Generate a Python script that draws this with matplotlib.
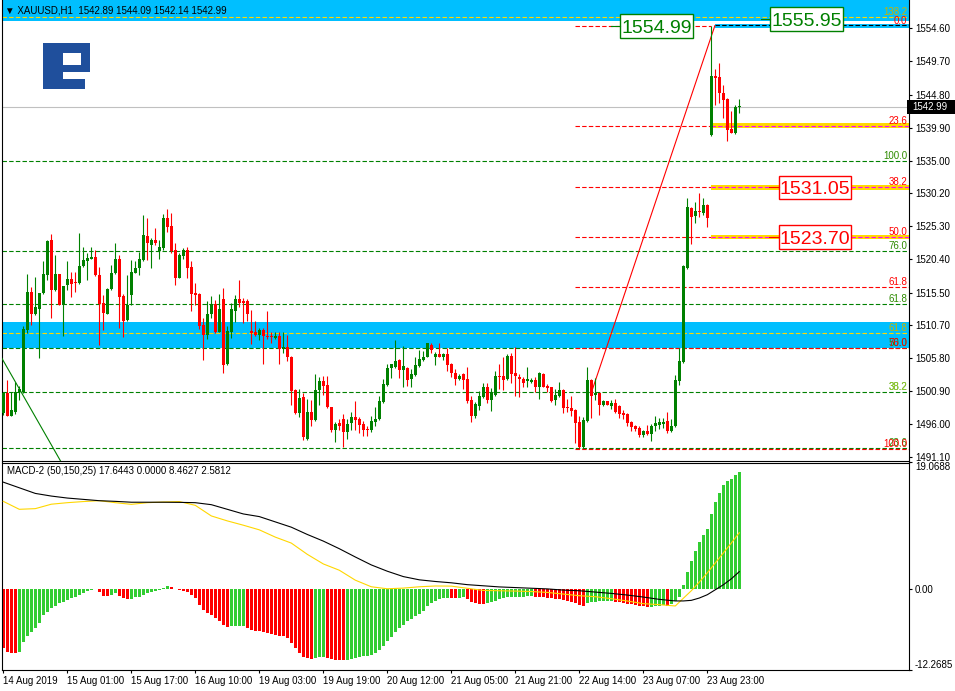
import numpy as np
import matplotlib
matplotlib.use("Agg")
import matplotlib.pyplot as plt
from matplotlib.patches import Rectangle

# ------------------------------------------------------------------------------
# data: XAUUSD H1 candles
# ------------------------------------------------------------------------------
opens = [
    1497.65, 1500.7, 1497.3, 1497.85, 1500.85, 1500.85, 1510.0, 1515.6, 1512.35, 1513.1,
    1515.4, 1518.1, 1523.3, 1515.9, 1518.25, 1513.7, 1516.6, 1517.5, 1517.0, 1516.9,
    1519.4, 1520.2, 1520.5, 1520.8, 1518.05, 1513.9, 1512.4, 1516.0, 1518.35, 1520.4,
    1515.0, 1511.45, 1515.15, 1518.45, 1519.1, 1520.3, 1523.9, 1522.55, 1523.3, 1521.65,
    1522.15, 1526.5, 1525.35, 1521.8, 1517.6, 1520.9, 1521.8, 1519.3, 1515.5, 1515.3,
    1510.7, 1509.2, 1512.4, 1513.8, 1509.7, 1514.5, 1504.95, 1509.7, 1512.8, 1514.55,
    1514.2, 1514.2, 1509.8, 1509.7, 1509.2, 1509.95, 1509.1, 1509.0, 1508.8, 1509.1,
    1507.1, 1507.4, 1506.0, 1501.1, 1497.7, 1500.1, 1493.9, 1497.9, 1496.65, 1501.1,
    1502.4, 1501.8, 1498.5, 1495.1, 1496.2, 1496.75, 1494.9, 1496.2, 1497.05, 1496.75,
    1496.0, 1495.2, 1495.1, 1496.4, 1496.75, 1499.36, 1501.8, 1504.3, 1504.5, 1505.5,
    1504.1, 1504.4, 1502.7, 1503.3, 1504.7, 1505.5, 1506.0, 1507.7, 1506.0, 1506.4,
    1506.0, 1506.4, 1504.93, 1503.65, 1502.7, 1503.4, 1502.7, 1499.6, 1497.24, 1498.77,
    1500.1, 1501.58, 1499.6, 1500.35, 1503.15, 1503.15, 1502.7, 1506.1, 1503.55, 1502.96,
    1502.7, 1502.4, 1502.3, 1502.56, 1501.48, 1503.45, 1501.68, 1501.48, 1499.6, 1500.2,
    1501.08, 1498.47, 1498.47, 1498.13, 1496.4, 1492.6, 1496.55, 1502.6, 1500.4, 1500.6,
    1498.9, 1499.4, 1498.75, 1499.15, 1498.65, 1497.67, 1497.5, 1496.4, 1495.7, 1495.45,
    1494.46, 1494.96, 1494.6, 1495.8, 1495.94, 1496.1, 1496.5, 1494.96, 1495.8, 1502.35,
    1505.16, 1519.1, 1528.08, 1526.85, 1527.5, 1527.25, 1528.5, 1538.83, 1547.56, 1547.46,
    1545.1, 1544.1, 1539.67, 1539.07, 1542.89]
highs = [
    1500.85, 1502.6, 1500.85, 1502.2, 1501.6, 1510.55, 1518.25, 1516.3, 1517.85, 1515.5,
    1520.2, 1523.3, 1524.1, 1521.1, 1518.3, 1516.5, 1520.2, 1518.6, 1518.6, 1524.3,
    1522.3, 1521.3, 1522.3, 1521.8, 1519.3, 1515.15, 1516.2, 1519.6, 1522.9, 1521.1,
    1515.25, 1518.1, 1520.3, 1520.1, 1521.55, 1527.0, 1526.5, 1523.5, 1525.0, 1523.3,
    1527.1, 1527.9, 1527.3, 1522.9, 1521.3, 1522.05, 1522.2, 1520.2, 1516.9, 1515.5,
    1511.7, 1514.2, 1515.0, 1514.4, 1515.3, 1516.2, 1510.5, 1514.0, 1515.15, 1517.4,
    1514.65, 1514.5, 1512.9, 1511.35, 1510.3, 1510.3, 1512.8, 1509.6, 1509.7, 1509.7,
    1509.6, 1509.2, 1506.1, 1501.2, 1501.2, 1500.6, 1499.7, 1499.6, 1503.45, 1503.06,
    1503.16, 1503.16, 1498.6, 1496.3, 1496.75, 1497.5, 1496.75, 1497.9, 1499.5, 1497.05,
    1496.5, 1495.7, 1497.2, 1498.6, 1500.2, 1502.66, 1505.0, 1505.0, 1508.5, 1505.6,
    1507.6, 1504.5, 1504.15, 1506.0, 1507.0, 1506.9, 1508.0, 1508.0, 1506.75, 1508.0,
    1506.6, 1507.25, 1505.03, 1504.14, 1503.45, 1503.55, 1504.5, 1500.2, 1499.36, 1500.94,
    1502.17, 1502.17, 1501.43, 1503.9, 1504.93, 1505.9, 1506.4, 1506.5, 1507.4, 1503.45,
    1502.96, 1504.44, 1502.8, 1502.96, 1503.7, 1503.55, 1501.97, 1501.58, 1501.18, 1502.2,
    1501.18, 1499.7, 1500.2, 1498.23, 1497.24, 1497.14, 1504.44, 1502.7, 1502.8, 1500.7,
    1499.6, 1499.5, 1499.6, 1499.7, 1498.9, 1498.16, 1497.67, 1496.5, 1495.94, 1495.7,
    1495.2, 1495.94, 1496.04, 1497.2, 1496.93, 1496.93, 1497.77, 1496.8, 1503.3, 1507.3,
    1519.6, 1529.47, 1528.23, 1528.97, 1530.3, 1529.47, 1528.6, 1554.99, 1548.54, 1549.43,
    1546.2, 1544.25, 1542.3, 1543.27, 1544.09]
lows = [
    1497.4, 1497.2, 1497.2, 1497.6, 1499.6, 1500.6, 1509.5, 1510.7, 1512.2, 1505.8,
    1515.3, 1517.4, 1511.7, 1515.8, 1513.6, 1509.0, 1515.9, 1514.9, 1515.6, 1516.8,
    1519.3, 1517.4, 1520.4, 1517.95, 1507.75, 1510.0, 1512.3, 1515.9, 1518.25, 1510.2,
    1508.9, 1511.35, 1513.7, 1518.35, 1518.1, 1520.2, 1520.3, 1519.1, 1522.55, 1520.4,
    1521.8, 1524.5, 1521.4, 1516.6, 1517.6, 1520.4, 1517.6, 1512.8, 1513.7, 1510.1,
    1505.5, 1508.6, 1511.7, 1509.5, 1509.6, 1503.65, 1504.8, 1508.8, 1511.2, 1513.3,
    1510.96, 1511.35, 1507.9, 1509.1, 1508.5, 1504.95, 1508.6, 1508.1, 1508.7, 1504.95,
    1506.5, 1505.3, 1498.8, 1497.55, 1497.15, 1493.7, 1493.7, 1495.7, 1496.55, 1498.9,
    1500.35, 1498.4, 1494.8, 1493.45, 1495.2, 1492.7, 1493.9, 1495.2, 1495.1, 1494.7,
    1494.3, 1494.3, 1494.9, 1495.7, 1496.65, 1499.2, 1501.7, 1502.8, 1504.4, 1502.8,
    1501.5, 1501.6, 1501.5, 1503.16, 1504.5, 1505.4, 1505.9, 1506.6, 1504.8, 1505.9,
    1505.5, 1503.95, 1503.06, 1501.8, 1502.56, 1501.18, 1499.2, 1496.4, 1497.0, 1498.13,
    1499.85, 1499.2, 1498.03, 1500.2, 1501.23, 1501.08, 1502.56, 1502.07, 1500.2, 1500.0,
    1501.58, 1501.58, 1502.07, 1500.84, 1499.75, 1501.48, 1500.84, 1499.36, 1498.87, 1500.1,
    1497.73, 1497.88, 1497.24, 1493.2, 1492.46, 1492.46, 1496.4, 1496.9, 1499.6, 1497.4,
    1498.65, 1498.8, 1498.2, 1497.67, 1496.93, 1496.8, 1495.7, 1494.96, 1494.96, 1494.2,
    1494.1, 1494.46, 1493.5, 1494.96, 1495.3, 1495.45, 1494.7, 1494.8, 1495.6, 1501.86,
    1505.06, 1518.96, 1522.7, 1525.86, 1526.75, 1527.0, 1525.2, 1538.7, 1543.27, 1543.6,
    1541.3, 1538.0, 1539.1, 1538.98, 1542.14]
closes = [
    1500.7, 1497.3, 1498.1, 1500.75, 1501.2, 1510.05, 1515.65, 1512.35, 1513.3, 1515.4,
    1518.25, 1523.15, 1515.9, 1518.25, 1513.7, 1516.4, 1517.5, 1516.8, 1516.9, 1519.4,
    1520.3, 1520.6, 1520.8, 1518.05, 1513.8, 1512.5, 1516.0, 1518.45, 1520.4, 1514.9,
    1511.35, 1513.6, 1518.6, 1519.1, 1520.4, 1524.0, 1522.8, 1523.3, 1522.9, 1522.2,
    1526.5, 1525.25, 1521.7, 1517.6, 1521.05, 1521.8, 1519.1, 1515.25, 1515.15, 1510.6,
    1509.2, 1512.4, 1513.8, 1509.6, 1513.0, 1504.8, 1509.8, 1513.0, 1514.55, 1514.0,
    1514.0, 1512.35, 1509.5, 1509.2, 1509.95, 1509.0, 1508.9, 1508.9, 1509.1, 1507.1,
    1507.4, 1505.9, 1500.95, 1497.75, 1499.85, 1494.1, 1497.9, 1496.65, 1501.1, 1502.4,
    1501.7, 1498.5, 1495.2, 1496.05, 1495.8, 1494.9, 1496.05, 1497.05, 1496.65, 1495.9,
    1495.1, 1495.1, 1496.55, 1496.8, 1499.5, 1501.97, 1504.4, 1504.9, 1505.4, 1504.0,
    1504.7, 1502.6, 1503.45, 1504.8, 1505.67, 1506.0, 1508.0, 1507.0, 1506.4, 1506.0,
    1506.4, 1504.8, 1503.55, 1502.7, 1503.15, 1502.56, 1499.46, 1497.24, 1499.0, 1500.2,
    1501.58, 1499.6, 1500.6, 1503.15, 1503.06, 1502.56, 1506.1, 1503.45, 1503.15, 1502.7,
    1502.17, 1502.7, 1502.56, 1501.48, 1503.55, 1501.58, 1501.33, 1499.5, 1500.35, 1501.08,
    1498.37, 1498.37, 1498.03, 1496.25, 1492.6, 1496.65, 1502.56, 1500.13, 1500.6, 1498.9,
    1499.4, 1498.9, 1499.15, 1497.77, 1497.57, 1497.4, 1496.27, 1495.6, 1495.3, 1494.46,
    1494.96, 1494.6, 1495.8, 1496.2, 1496.4, 1496.4, 1494.96, 1495.8, 1502.5, 1505.3,
    1519.36, 1528.13, 1526.75, 1527.5, 1527.35, 1528.5, 1526.6, 1547.56, 1547.3, 1545.0,
    1544.0, 1539.57, 1539.17, 1542.9, 1542.99]

# MACD-2 (50,150,25) histogram, one value per candle
macd_hist = [
    -9.0, -9.5, -9.65, -9.7, -9.6, -8.0, -7.15, -6.5, -5.9, -5.1,
    -3.95, -3.45, -2.95, -2.55, -2.2, -1.95, -1.7, -1.45, -1.2, -0.95,
    -0.6, -0.35, -0.2, -0.1, -0.45, -1.1, -1.15, -0.95, -0.7, -1.1,
    -1.45, -1.6, -1.55, -1.3, -1.2, -0.95, -0.7, -0.45, -0.35, -0.2,
    0.1, 0.4, 0.2, -0.1, -0.2, -0.3, -0.5, -0.95, -1.45, -2.45,
    -3.2, -3.7, -3.95, -4.45, -4.85, -5.45, -5.7, -5.65, -5.62, -5.6,
    -5.55, -5.95, -6.2, -6.35, -6.45, -6.6, -6.7, -6.85, -6.95, -7.1,
    -7.2, -7.5, -8.25, -9.0, -9.75, -10.25, -10.5, -10.6, -10.45, -10.35,
    -10.3, -10.5, -10.6, -10.7, -10.75, -10.8, -10.75, -10.6, -10.5, -10.35,
    -10.2, -10.1, -9.95, -9.7, -9.2, -8.7, -7.9, -7.25, -6.55, -5.9,
    -5.4, -4.9, -4.55, -4.15, -3.75, -3.4, -2.6, -2.2, -1.85, -1.6,
    -1.45, -1.35, -1.4, -1.45, -1.35, -1.3, -1.6, -1.95, -2.2, -2.3,
    -2.32, -2.1, -1.95, -1.8, -1.6, -1.45, -1.3, -1.28, -1.2, -1.18,
    -1.17, -1.15, -1.12, -1.2, -1.25, -1.3, -1.35, -1.4, -1.5, -1.6,
    -1.7, -1.85, -2.0, -2.2, -2.5, -2.65, -2.2, -2.05, -1.95, -1.9,
    -1.88, -1.85, -1.83, -1.95, -2.05, -2.15, -2.25, -2.35, -2.45, -2.55,
    -2.65, -2.75, -2.7, -2.6, -2.55, -2.5, -2.6, -2.3, -1.8, -1.2,
    0.57, 2.58, 4.19, 5.76, 7.12, 8.13, 9.04, 11.3, 13.07, 14.43,
    15.6, 16.2, 16.6, 17.2, 17.6443]

# MACD lines, read every few candles
line_idx = [0, 4, 8, 12, 16, 20, 24, 28, 32, 36, 40, 44, 48, 52, 56, 60, 64, 68,
            72, 76, 80, 84, 88, 92, 96, 100, 104, 108, 112, 116, 120, 124, 128,
            132, 136, 140, 144, 148, 152, 156, 160, 164, 168, 170, 172, 174, 176,
            178, 180, 182, 184]
macd_black = [16.1, 15.25, 14.4, 14.0, 13.7, 13.5, 13.3, 13.2, 13.07, 13.07, 13.07,
              13.05, 13.0, 12.7, 12.0, 11.3, 10.9, 10.1, 9.3, 8.2, 7.2, 6.05, 4.8,
              3.6, 2.65, 1.84, 1.35, 1.1, 0.9, 0.62, 0.45, 0.28, 0.18, 0.08, -0.02,
              -0.2, -0.3, -0.5, -0.7, -0.95, -1.25, -1.6, -1.84, -1.84, -1.75, -1.4,
              -0.9, -0.15, 0.6, 1.5, 2.5812]
macd_yellow = [13.2, 12.0, 12.1, 12.77, 13.0, 13.17, 13.3, 13.0, 12.75, 13.0, 13.1,
               13.17, 12.6, 11.0, 10.25, 9.6, 8.9, 7.8, 6.9, 5.2, 3.75, 2.8, 1.3,
               0.3, 0.0, 0.1, 0.3, 0.42, 0.4, 0.07, -0.25, -0.3, -0.35, -0.42, -0.55,
               -0.8, -1.05, -1.2, -1.5, -1.85, -2.25, -2.4, -2.6, -1.44, -0.3, 1.0,
               2.4, 3.9, 5.4, 6.9, 8.4627]

date_pos = [0, 16, 32, 48, 64, 80, 96, 112, 128, 144, 160, 176]
date_labels = ["14 Aug 2019", "15 Aug 01:00", "15 Aug 17:00", "16 Aug 10:00",
               "19 Aug 03:00", "19 Aug 19:00", "20 Aug 12:00", "21 Aug 05:00",
               "21 Aug 21:00", "22 Aug 14:00", "23 Aug 07:00", "23 Aug 23:00"]

price_ticks = [1554.60, 1549.70, 1544.80, 1539.90, 1535.00, 1530.20, 1525.30,
               1520.40, 1515.50, 1510.70, 1505.80, 1500.90, 1496.00, 1491.10]
macd_ticks = [19.0688, 0.0, -12.2685]
last_price = 1542.99

# fibonacci levels (label, price)
red_fib = [("0.0", 1554.99), ("23.6", 1540.20), ("38.2", 1531.05), ("50.0", 1523.70),
           ("61.8", 1516.26), ("76.0", 1507.36), ("100.0", 1492.32)]
green_fib = [("100.0", 1535.00), ("76.0", 1521.65), ("61.8", 1513.81),
             ("50.0", 1507.30), ("38.2", 1500.78), ("23.6", 1492.50)]
yellow_fib = [("138.2", 1556.33), ("61.8", 1509.47)]
zones = [(1555.74, 1562.0), (1507.30, 1511.10)]
red_fib_start = 143
marked_start = 177          # bar where highlighted levels begin
marked_levels = [1540.20, 1531.05, 1523.70]
price_boxes = [("1554.99", 163.3, 1554.99, "g"), ("1555.95", 200.8, 1555.95, "g"),
               ("1531.05", 202.9, 1531.05, "r"), ("1523.70", 202.9, 1523.70, "r")]
green_trend = ([-0.825, 16.0], [1506.26, 1488.83])
red_trend = ([146.9, 177.9], [1500.5, 1555.0])

# ------------------------------------------------------------------------------
W, H = 955, 691
GREEN = "#008000"
RED = "#FF0000"
FIB_GREEN = "#2E8B00"
FIB_YEL = "#C8B400"
BLUE = "#00BFFF"
FONT = ["Liberation Sans", "DejaVu Sans"]
plt.rcParams["font.family"] = FONT

fig = plt.figure(figsize=(W / 100, H / 100), dpi=100)
LEFT, RIGHT = 2 / W, 909 / W
ax = fig.add_axes([LEFT, 1 - 460.5 / H, RIGHT - LEFT, 460.5 / H])
axm = fig.add_axes([LEFT, 1 - 670 / H, RIGHT - LEFT, (670 - 462.5) / H])

XMIN, XMAX = -0.325, 226.425
for a in (ax, axm):
    a.set_xlim(XMIN, XMAX)
    for s in a.spines.values():
        s.set_linewidth(0.8)
ax.set_ylim(1490.65, 1558.79)
axm.set_ylim(-12.2685, 19.0688)
ax.spines["top"].set_visible(False)

dash = dict(lw=0.8, dashes=(4, 2))

# zones
for lo, hi in zones:
    ax.add_patch(Rectangle((XMIN, lo), XMAX - XMIN, hi - lo, color=BLUE, lw=0, zorder=1))

# fibonacci lines
for lab, p in green_fib:
    ax.plot([XMIN, XMAX], [p, p], color=GREEN, zorder=2, **dash)
for lab, p in yellow_fib:
    ax.plot([XMIN, XMAX], [p, p], color="#FFD700", zorder=2, **dash)
for lab, p in red_fib:
    end = marked_start if (p in marked_levels or lab == "0.0") else XMAX
    ax.plot([red_fib_start, end], [p, p], color=RED, zorder=2, **dash)

# highlighted levels on the right
for p in marked_levels:
    ax.add_patch(Rectangle((marked_start, p - 0.33), XMAX - marked_start, 0.66,
                           color="#FFD700", lw=0, zorder=2))
    ax.plot([marked_start, XMAX], [p, p], color="#FF00FF", zorder=3, **dash)
ax.add_patch(Rectangle((178, red_fib[0][1] - 0.3), XMAX - 178, 0.6, color=BLUE, lw=0, zorder=2))
ax.plot([178, XMAX], [red_fib[0][1] + 0.1] * 2, color="black", zorder=3, **dash)

# current price
ax.axhline(last_price, color="#C0C0C0", lw=0.8, zorder=2)

# trend lines
ax.plot(*green_trend, color=GREEN, lw=0.8, zorder=4)
ax.plot(*red_trend, color=RED, lw=0.8, zorder=4)

# candles
x = np.arange(len(opens))
o = np.array(opens)
c = np.array(closes)
cols = np.where(c >= o, GREEN, RED)
ax.vlines(x, lows, highs, colors=cols, lw=0.8, zorder=5)
ax.bar(x, np.maximum(np.abs(c - o), 0.15), bottom=np.minimum(o, c), width=0.7,
       color=cols, lw=0, zorder=6)

# fib labels, right aligned at the chart edge
def fib_label(txt, price, color):
    ax.annotate(txt, xy=(XMAX, price), xytext=(-2, 2), textcoords="offset pixels",
                ha="right", va="baseline", fontsize=7, color=color, zorder=8)

for lab, p in green_fib:
    fib_label(lab, p, FIB_GREEN)
for lab, p in red_fib:
    fib_label(lab, p, RED)
for lab, p in yellow_fib:
    fib_label(lab, p, FIB_YEL)
fib_label("38.2", green_fib[4][1], "#9ACD32")

# boxed price labels
for txt, bx, p, kind in price_boxes:
    col = GREEN if kind == "g" else RED
    ax.add_patch(Rectangle((bx - 9.1, p - 1.75), 18.2, 3.5, fc="white", ec=col,
                           lw=1.0, zorder=9))
    ax.plot([bx - 11.5, bx - 9.1], [p, p], color=col, lw=0.8, zorder=9)
    ax.annotate(txt, xy=(bx, p), xytext=(0, -7), textcoords="offset pixels",
                ha="center", va="baseline", fontsize=14, color=col, zorder=10)

# right price axis
ax.yaxis.tick_right()
ax.set_yticks(price_ticks)
ax.set_yticklabels(["%.2f" % v for v in price_ticks])
ax.tick_params(axis="y", length=2.2, width=0.8, pad=2, labelsize=7)
ax.tick_params(axis="x", bottom=False, labelbottom=False)

# current price tag
fig.patches.append(Rectangle((907 / W, 1 - 113.5 / H), 48 / W, 14 / H,
                             transform=fig.transFigure, fc="black", lw=0))
fig.text(912 / W, 1 - 107 / H, "%.2f" % last_price, color="white", fontsize=7, va="center")

# title
fig.text(5 / W, 1 - 10.5 / H, "\u25BC XAUUSD,H1  1542.89 1544.09 1542.14 1542.99",
         fontsize=7, va="center", family=FONT)

# logo
LOGO = "#1F4F9C"
for rx, ry, rw, rh, fc in [(43.3, 43.3, 46.7, 28.4, LOGO), (63.3, 53.3, 17.7, 11.7, "white"),
                           (43.3, 43.3, 20, 46, LOGO), (63.3, 79, 21.7, 10.3, LOGO)]:
    fig.patches.append(Rectangle((rx / W, 1 - (ry + rh) / H), rw / W, rh / H,
                                 transform=fig.transFigure, fc=fc, lw=0))

# ------------------------------------------------------------------------------
# MACD panel
h = np.array(macd_hist)
rising = np.r_[False, np.diff(h) > 0]
axm.bar(x, h, width=0.75, color=np.where(rising, "#32CD32", RED), lw=0, zorder=2)
axm.plot(line_idx, macd_yellow, color="#FFD700", lw=0.8, zorder=3)
axm.plot(line_idx, macd_black, color="black", lw=0.8, zorder=3)
axm.text(0.006, 0.985, "MACD-2 (50,150,25) 17.6443 0.0000 8.4627 2.5812",
         transform=axm.transAxes, fontsize=7, va="top")

axm.yaxis.tick_right()
axm.set_yticks(macd_ticks)
labs = axm.set_yticklabels(["19.0688", "0.00", "-12.2685"])
labs[0].set_va("top")
labs[2].set_va("bottom")
axm.tick_params(axis="y", length=2.2, width=0.8, pad=2, labelsize=7)

axm.set_xticks(date_pos)
xl = axm.set_xticklabels(date_labels)
for t in xl:
    t.set_ha("left")
axm.tick_params(axis="x", length=2.2, width=0.8, pad=2, labelsize=7)

fig.savefig("out.png", dpi=100)
